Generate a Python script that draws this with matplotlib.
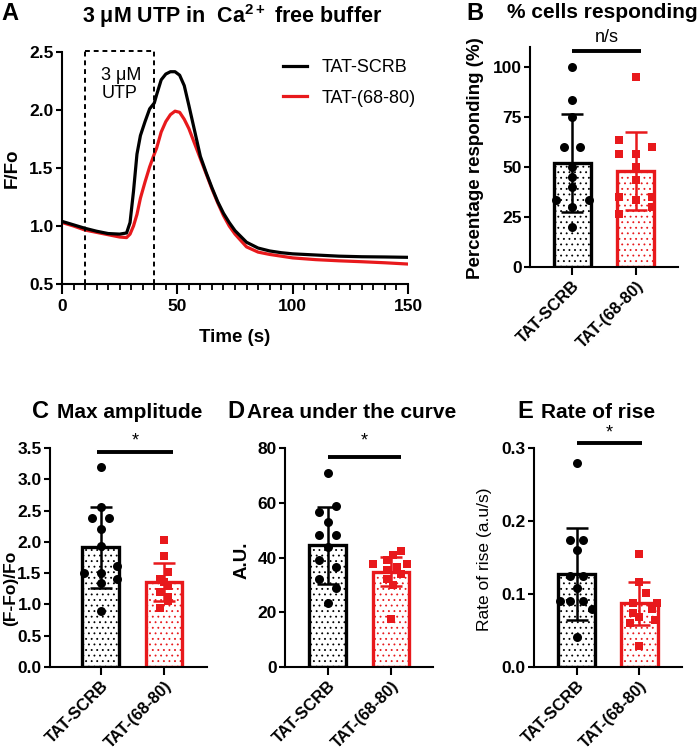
import matplotlib
matplotlib.use("Agg")
import matplotlib.pyplot as plt

plt.rcParams["font.family"] = ["Liberation Sans", "DejaVu Sans"]
plt.rcParams["mathtext.fontset"] = "custom"
plt.rcParams["mathtext.rm"] = "Liberation Sans"
plt.rcParams["mathtext.bf"] = "Liberation Sans:weight=bold"
plt.rcParams["hatch.linewidth"] = 0.6
plt.rcParams["axes.linewidth"] = 1.5

RED = "#e8191c"
groups = ["TAT-SCRB", "TAT-(68-80)"]

# ---- panel A : mean traces ----
time_s = [0, 5, 10, 15, 20, 25, 28, 29.5, 31, 32.5, 34, 36, 38, 40, 41, 43, 45, 47, 49,
          51, 53, 55, 57.5, 60, 62.5, 65, 67.5, 70, 72.5, 75, 80, 85, 90, 95, 100,
          110, 120, 130, 140, 150]
scrb_trace = [1.04, 1.01, 0.98, 0.955, 0.935, 0.93, 0.94, 1.03, 1.30, 1.62, 1.78, 1.90, 2.01,
              2.06, 2.13, 2.26, 2.31, 2.33, 2.33, 2.30, 2.21, 2.04, 1.82, 1.60, 1.46, 1.33,
              1.21, 1.11, 1.03, 0.96, 0.86, 0.81, 0.785, 0.77, 0.76, 0.75, 0.74, 0.735,
              0.733, 0.73]
tat_trace = [1.03, 1.0, 0.965, 0.945, 0.925, 0.905, 0.90, 0.93, 1.0, 1.10, 1.24, 1.38, 1.51,
             1.62, 1.67, 1.81, 1.90, 1.96, 1.99, 1.98, 1.92, 1.84, 1.71, 1.58, 1.45, 1.32,
             1.20, 1.09, 1.00, 0.93, 0.82, 0.775, 0.755, 0.74, 0.725, 0.71, 0.70, 0.692,
             0.683, 0.672]
utp_window = [10, 40]

# ---- panel B : % cells responding ----
b_means = [52, 48]
b_sds = [24.3, 19.5]
b_scrb = [100, 83.3, 75, 60, 60, 50, 45, 40, 33.3, 33.3, 30, 20]
b_tat = [95, 63.3, 60, 56.7, 56.7, 50, 43.3, 35, 35, 33.3, 30, 26.7]

# ---- panel C : max amplitude ----
c_means = [1.91, 1.36]
c_sds = [0.64, 0.30]
c_scrb = [3.2, 2.55, 2.38, 2.38, 2.2, 1.93, 1.62, 1.5, 1.5, 1.4, 1.35, 0.9]
c_tat = [2.03, 1.78, 1.52, 1.40, 1.36, 1.30, 1.20, 1.12, 1.06, 0.95]

# ---- panel D : area under the curve ----
d_means = [44.5, 34.8]
d_sds = [14, 5.3]
d_scrb = [71, 58.8, 56.7, 53, 48.2, 48.2, 44, 39, 36.6, 32, 29, 23.3]
d_tat = [42.5, 40.8, 39, 37.8, 37.8, 36.5, 35.3, 34.1, 32.3, 29.8, 17.4]

# ---- panel E : rate of rise ----
e_means = [0.127, 0.087]
e_sds = [0.063, 0.029]
e_scrb = [0.28, 0.174, 0.174, 0.16, 0.124, 0.124, 0.108, 0.09, 0.09, 0.09, 0.079, 0.041]
e_tat = [0.155, 0.117, 0.102, 0.087, 0.087, 0.08, 0.074, 0.068, 0.065, 0.06, 0.029]

# horizontal jitter of the dots (layout only)
b_scrb_dx = [0, 0, 0, -0.13, 0.13, 0, 0, 0, -0.26, 0.26, 0, 0]
b_tat_dx = [0, -0.26, 0.26, -0.26, 0, 0, 0, -0.26, 0.26, 0, 0.26, -0.26]
c_scrb_dx = [0, 0, -0.13, 0.13, 0, 0, 0.26, -0.26, 0, 0.26, 0, 0]
c_tat_dx = [0, 0, 0.06, -0.06, 0, 0.06, -0.06, 0.06, 0.06, -0.06]
d_scrb_dx = [0, 0.14, -0.13, 0, -0.13, 0.14, 0, -0.13, 0.14, -0.13, 0.14, 0]
d_tat_dx = [0.15, 0.03, -0.06, -0.28, 0.25, 0.1, -0.06, 0.15, -0.06, 0.03, 0]
e_scrb_dx = [0, -0.1, 0.1, 0, -0.1, 0.1, 0, -0.27, -0.1, 0.1, 0.25, 0]
e_tat_dx = [0, 0, 0.1, -0.1, 0.28, 0.2, -0.1, 0.0, 0.25, -0.15, 0]

W, H = 700, 756
fig = plt.figure(figsize=(7, 7.56), dpi=100)

TITLE = 15
LETTER = 17
LABEL = 13.5
TICK = 12.5


def px_axes(left, top, right, bottom):
    return fig.add_axes([left / W, 1 - bottom / H, (right - left) / W, (bottom - top) / H])


def ftext(x, y, s, **kw):
    fig.text(x / W, 1 - y / H, s, **kw)


def style_axes(ax):
    for side in ["top", "right"]:
        ax.spines[side].set_visible(False)
    ax.tick_params(width=1.5, labelsize=TICK)
    ax.tick_params(axis="y", length=4, pad=2)
    for lab in ax.get_xticklabels() + ax.get_yticklabels():
        lab.set_fontweight("bold")


# ---------------- A ----------------
ax = px_axes(62, 52, 408, 284)
ax.plot(time_s, scrb_trace, color="black", lw=2.3, label=groups[0], zorder=3)
ax.plot(time_s, tat_trace, color=RED, lw=2.3, label=groups[1], zorder=2)
for t in utp_window:
    ax.plot([t, t], [0.5, 2.51], color="black", lw=1.4, ls=(0, (2.5, 2)), clip_on=False)
ax.plot(utp_window, [2.51, 2.51], color="black", lw=1.4, ls=(0, (2.5, 2)), clip_on=False)
ax.text(17, 2.22, "3 μM\nUTP", fontsize=13, ha="left", va="center", linespacing=1.15)
ax.set_xlim(0, 150)
ax.set_ylim(0.5, 2.5)
ax.set_xticks([0, 50, 100, 150])
ax.set_xticks(range(0, 151, 5), minor=True)
ax.set_yticks([0.5, 1.0, 1.5, 2.0, 2.5])
ax.set_yticklabels(["0.5", "1.0", "1.5", "2.0", "2.5"])
style_axes(ax)
ax.tick_params(axis="x", length=7, pad=4)
ax.tick_params(axis="x", which="minor", length=4, width=1.3)
ax.legend(loc="upper left", bbox_to_anchor=(0.618, 1.0), borderaxespad=0, frameon=False,
          fontsize=13, handlelength=1.35, handletextpad=0.8, labelspacing=0.75)
ftext(12, 168, "F/Fo", rotation=90, ha="center", va="center", fontsize=LABEL, fontweight="bold")
ftext(235, 337, "Time (s)", ha="center", va="center", fontsize=LABEL, fontweight="bold")
ftext(1, 14, "A", ha="left", va="center", fontsize=LETTER, fontweight="bold")
ftext(82, 16, "3 μM UTP in  $\\mathbf{Ca^{2+}}$ free buffer", ha="left", va="center",
      fontsize=15.5, fontweight="bold")


# ---------------- bar panels ----------------
def bar_panel(box, xlim, means, sds, scrb, scrb_dx, tat, tat_dx, ylim, yticks, yticklabels,
              sig_y, sig_x, sig_text, text_y):
    ax = px_axes(*box)
    colors = ["black", RED]
    for i in range(2):
        ax.bar(i, means[i], width=0.58, color="white", edgecolor=colors[i], hatch="...",
               linewidth=2.4, zorder=2)
        ax.errorbar(i, means[i], yerr=sds[i], color=colors[i], elinewidth=1.8, capsize=8,
                    capthick=1.8, zorder=3)
    ax.scatter([0 + d for d in scrb_dx], scrb, s=42, marker="o", color="black", zorder=4,
               clip_on=False, linewidths=0)
    ax.scatter([1 + d for d in tat_dx], tat, s=34, marker="s", color=RED, zorder=4,
               clip_on=False, linewidths=0)
    ax.plot(sig_x, [sig_y, sig_y], color="black", lw=2.8, clip_on=False, solid_capstyle="butt")
    ax.text(sum(sig_x) / 2, text_y, sig_text, ha="center", va="center", fontsize=13)
    ax.set_xlim(*xlim)
    ax.set_ylim(*ylim)
    ax.set_yticks(yticks)
    ax.set_yticklabels(yticklabels)
    ax.set_xticks([0, 1])
    ax.set_xticklabels(groups, rotation=45, ha="right", rotation_mode="anchor")
    style_axes(ax)
    ax.tick_params(axis="x", length=6, pad=2, labelsize=12)
    return ax


bar_panel((530, 47, 678, 267), (-0.66, 1.66), b_means, b_sds, b_scrb, b_scrb_dx, b_tat, b_tat_dx,
          (0, 110), [0, 25, 50, 75, 100], ["0", "25", "50", "75", "100"],
          108, (0.0, 1.08), "n/s", 115)
ftext(466, 13, "B", ha="left", va="center", fontsize=LETTER, fontweight="bold")
ftext(507, 13, "% cells responding", ha="left", va="center", fontsize=TITLE, fontweight="bold")
ftext(475, 158, "Percentage responding (%)", rotation=90, ha="center", va="center",
      fontsize=LABEL, fontweight="bold")

bar_panel((50, 448, 207, 667), (-0.8, 1.68), c_means, c_sds, c_scrb, c_scrb_dx, c_tat, c_tat_dx,
          (0, 3.5), [0, 0.5, 1.0, 1.5, 2.0, 2.5, 3.0, 3.5],
          ["0.0", "0.5", "1.0", "1.5", "2.0", "2.5", "3.0", "3.5"],
          3.44, (-0.05, 1.14), "*", 3.62)
ftext(32, 412, "C", ha="left", va="center", fontsize=LETTER, fontweight="bold")
ftext(57, 412, "Max amplitude", ha="left", va="center", fontsize=TITLE, fontweight="bold")
ftext(11, 588, "(F-Fo)/Fo", rotation=90, ha="center", va="center", fontsize=12.5, fontweight="bold")

bar_panel((285, 448, 433, 667), (-0.67, 1.66), d_means, d_sds, d_scrb, d_scrb_dx, d_tat, d_tat_dx,
          (0, 80), [0, 20, 40, 60, 80], ["0", "20", "40", "60", "80"],
          76.8, (0.0, 1.16), "*", 82.5)
ftext(227, 412, "D", ha="left", va="center", fontsize=LETTER, fontweight="bold")
ftext(247, 412, "Area under the curve", ha="left", va="center", fontsize=TITLE, fontweight="bold")
ftext(242, 560, "A.U.", rotation=90, ha="center", va="center", fontsize=LABEL, fontweight="bold")

bar_panel((534, 448, 682, 667), (-0.68, 1.68), e_means, e_sds, e_scrb, e_scrb_dx, e_tat, e_tat_dx,
          (0, 0.3), [0, 0.1, 0.2, 0.3], ["0.0", "0.1", "0.2", "0.3"],
          0.307, (0.0, 1.04), "*", 0.321)
ftext(517, 412, "E", ha="left", va="center", fontsize=LETTER, fontweight="bold")
ftext(541, 412, "Rate of rise", ha="left", va="center", fontsize=TITLE, fontweight="bold")
ftext(485, 559, "Rate of rise (a.u/s)", rotation=90, ha="center", va="center", fontsize=12.5)

fig.savefig("out.png", dpi=100)
